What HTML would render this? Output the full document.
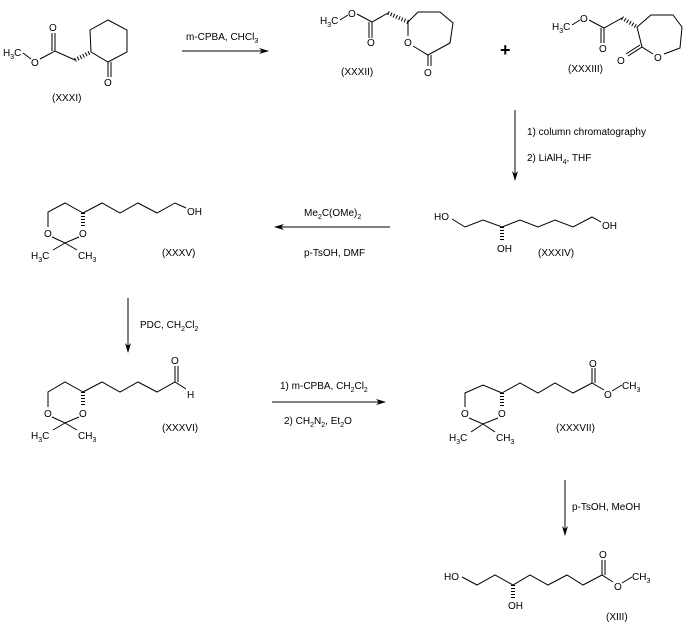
<!DOCTYPE html>
<html><head><meta charset="utf-8"><style>
html,body{margin:0;padding:0;background:#fff;}
svg{display:block;}
text{font-family:"Liberation Sans",Arial,sans-serif;font-size:10px;fill:#000;}
.s{font-size:7px;}
line,polyline,polygon{stroke:#000;stroke-width:1;fill:none;}
.h{stroke-width:4;stroke-dasharray:1,2;}
</style></head><body>
<svg width="694" height="638" viewBox="0 0 694 638" xmlns="http://www.w3.org/2000/svg">
<defs><marker id="a" markerWidth="10" markerHeight="6" refX="9" refY="3" orient="auto" markerUnits="userSpaceOnUse"><path d="M0,0 L10,3 L0,6 L3,3z" fill="#000"/></marker></defs>

<!-- XXXI -->
<text x="3" y="56">H<tspan class="s" dy="3">3</tspan><tspan dy="-3">C</tspan></text>
<polyline points="23,53 31,59"/>
<text x="31" y="66">O</text>
<polyline points="40,59 55,51 75,60"/>
<line x1="55" y1="51" x2="55" y2="33"/><line x1="52" y1="51" x2="52" y2="33"/>
<text x="49" y="31">O</text>
<line class="h" x1="75" y1="60" x2="91" y2="52"/>
<polygon points="91,52 90,30 108,20 127,30 127,52 108,62"/>
<line x1="108" y1="62" x2="108" y2="77"/><line x1="111" y1="62" x2="111" y2="77"/>
<text x="104" y="86">O</text>
<text x="52" y="101">(XXXI)</text>

<line x1="182" y1="51" x2="268" y2="51" marker-end="url(#a)"/>
<text x="186" y="40">m-CPBA, CHCl<tspan class="s" dy="3">3</tspan></text>

<!-- XXXII -->
<text x="320" y="24">H<tspan class="s" dy="3">3</tspan><tspan dy="-3">C</tspan></text>
<polyline points="340,20 348,15"/>
<text x="348" y="17">O</text>
<polyline points="357,14 372,22 388,13"/>
<line x1="372" y1="22" x2="372" y2="38"/><line x1="369" y1="22" x2="369" y2="38"/>
<text x="367" y="46">O</text>
<line class="h" x1="388" y1="13" x2="408" y2="22"/>
<polyline points="408,22 418,12 440,12 453,23 450,43 428,55 413,46"/>
<line x1="408" y1="22" x2="408" y2="36"/>
<text x="404" y="46">O</text>
<line x1="428" y1="55" x2="428" y2="66"/><line x1="431" y1="55" x2="431" y2="66"/>
<text x="424" y="76">O</text>
<text x="341" y="75">(XXXII)</text>

<text x="500" y="56" style="font-size:18px;font-weight:bold">+</text>

<!-- XXXIII -->
<text x="552" y="30">H<tspan class="s" dy="3">3</tspan><tspan dy="-3">C</tspan></text>
<polyline points="572,25 580,20"/>
<text x="580" y="22">O</text>
<polyline points="589,20 604,28 622,18"/>
<line x1="604" y1="28" x2="604" y2="43"/><line x1="601" y1="28" x2="601" y2="43"/>
<text x="599" y="52">O</text>
<line class="h" x1="622" y1="18" x2="637" y2="27"/>
<polyline points="637,27 651,15 673,15 682,27 680,48 664,54"/>
<text x="654" y="61">O</text>
<polyline points="653,54 642,47 637,27"/>
<line x1="642" y1="47" x2="628" y2="56"/><line x1="640" y1="45" x2="626" y2="54"/>
<text x="617" y="64">O</text>
<text x="568" y="72">(XXXIII)</text>

<line x1="515" y1="110" x2="515" y2="180" marker-end="url(#a)"/>
<text x="527" y="135">1) column chromatography</text>
<text x="527" y="161">2) LiAlH<tspan class="s" dy="3">4</tspan><tspan dy="-3">, THF</tspan></text>

<!-- XXXIV -->
<text x="434" y="220">HO</text>
<polyline points="452,219 465,227 483,220 502,227 520,220 538,227 555,220 573,227 592,217 601,222"/>
<line class="h" x1="502" y1="227" x2="502" y2="242"/>
<text x="497" y="252">OH</text>
<text x="602" y="229">OH</text>
<text x="538" y="256">(XXXIV)</text>

<line x1="390" y1="227" x2="275" y2="227" marker-end="url(#a)"/>
<text x="304" y="216">Me<tspan class="s" dy="3">2</tspan><tspan dy="-3">C(OMe)</tspan><tspan class="s" dy="3">2</tspan></text>
<text x="304" y="256">p-TsOH, DMF</text>

<!-- XXXV -->
<polyline points="83,213 65,203 48,212 48,227"/>
<line class="h" x1="83" y1="213" x2="83" y2="226"/>
<text x="44" y="237">O</text><text x="79" y="237">O</text>
<polyline points="52,237 65,243 79,237"/>
<line x1="65" y1="243" x2="53" y2="250"/><line x1="65" y1="243" x2="77" y2="250"/>
<text x="31" y="259">H<tspan class="s" dy="3">3</tspan><tspan dy="-3">C</tspan></text>
<text x="78" y="259">CH<tspan class="s" dy="3">3</tspan></text>
<polyline points="83,213 102,203 120,213 138,203 157,213 175,203 186,208"/>
<text x="187" y="215">OH</text>
<text x="162" y="256">(XXXV)</text>

<line x1="128" y1="298" x2="128" y2="352" marker-end="url(#a)"/>
<text x="140" y="328">PDC, CH<tspan class="s" dy="3">2</tspan><tspan dy="-3">Cl</tspan><tspan class="s" dy="3">2</tspan></text>

<!-- XXXVI -->
<polyline points="83,392 65,382 48,392 48,407"/>
<line class="h" x1="83" y1="392" x2="83" y2="406"/>
<text x="44" y="417">O</text><text x="79" y="417">O</text>
<polyline points="52,417 65,423 79,417"/>
<line x1="65" y1="423" x2="53" y2="430"/><line x1="65" y1="423" x2="77" y2="430"/>
<text x="31" y="439">H<tspan class="s" dy="3">3</tspan><tspan dy="-3">C</tspan></text>
<text x="78" y="439">CH<tspan class="s" dy="3">3</tspan></text>
<polyline points="83,392 102,382 120,392 138,382 157,392 175,382 186,389"/>
<line x1="175" y1="382" x2="175" y2="366"/><line x1="178" y1="382" x2="178" y2="366"/>
<text x="171" y="364">O</text>
<text x="187" y="398">H</text>
<text x="162" y="431">(XXXVI)</text>

<line x1="272" y1="402" x2="385" y2="402" marker-end="url(#a)"/>
<text x="280" y="389">1) m-CPBA, CH<tspan class="s" dy="3">2</tspan><tspan dy="-3">Cl</tspan><tspan class="s" dy="3">2</tspan></text>
<text x="284" y="424">2) CH<tspan class="s" dy="3">2</tspan><tspan dy="-3">N</tspan><tspan class="s" dy="3">2</tspan><tspan dy="-3">, Et</tspan><tspan class="s" dy="3">2</tspan><tspan dy="-3">O</tspan></text>

<!-- XXXVII -->
<polyline points="502,393 483,385 465,393 465,407"/>
<line class="h" x1="502" y1="393" x2="502" y2="407"/>
<text x="461" y="417">O</text><text x="498" y="417">O</text>
<polyline points="469,418 483,424 498,418"/>
<line x1="483" y1="424" x2="471" y2="432"/><line x1="483" y1="424" x2="495" y2="432"/>
<text x="449" y="441">H<tspan class="s" dy="3">3</tspan><tspan dy="-3">C</tspan></text>
<text x="496" y="441">CH<tspan class="s" dy="3">3</tspan></text>
<polyline points="502,393 520,383 538,393 555,383 573,393 592,383 604,390"/>
<line x1="592" y1="383" x2="592" y2="368"/><line x1="595" y1="383" x2="595" y2="368"/>
<text x="589" y="367">O</text>
<text x="604" y="398">O</text>
<line x1="612" y1="391" x2="622" y2="385"/>
<text x="622" y="389">CH<tspan class="s" dy="3">3</tspan></text>
<text x="556" y="431">(XXXVII)</text>

<line x1="565" y1="480" x2="565" y2="535" marker-end="url(#a)"/>
<text x="572" y="510">p-TsOH, MeOH</text>

<!-- XIII -->
<text x="444" y="580">HO</text>
<polyline points="462,577 477,585 495,575 513,585 530,575 548,585 567,575 583,585 602,575 613,582"/>
<line class="h" x1="513" y1="585" x2="513" y2="599"/>
<text x="508" y="609">OH</text>
<line x1="602" y1="575" x2="602" y2="560"/><line x1="605" y1="575" x2="605" y2="560"/>
<text x="599" y="558">O</text>
<text x="614" y="590">O</text>
<line x1="622" y1="583" x2="632" y2="577"/>
<text x="632" y="580">CH<tspan class="s" dy="3">3</tspan></text>
<text x="606" y="620">(XIII)</text>
</svg>
</body></html>
